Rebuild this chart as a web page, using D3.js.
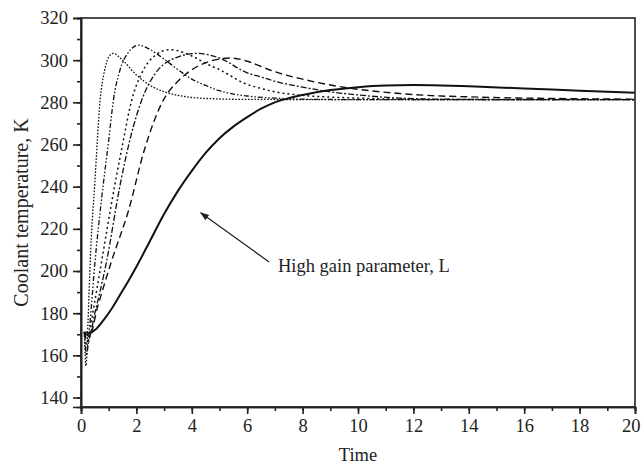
<!DOCTYPE html>
<html><head><meta charset="utf-8">
<script src="https://cdn.jsdelivr.net/npm/d3@7"></script>
<style>body{margin:0;background:#fff}svg{display:block}text{font-family:"Liberation Serif","Times New Roman",serif;fill:#222}</style>
</head><body><svg id="c" width="642" height="465"></svg>
<script>
const xTicks=[0,2,4,6,8,10,12,14,16,18,20];
const yTicks=[140,160,180,200,220,240,260,280,300,320];
const xTitle="Time", yTitle="Coolant temperature, K", note="High gain parameter, L";
// series: [time, temperature]
const serA=[[0.12,171],[0.18,155],[0.25,175],[0.35,210],[0.5,242],[0.69,281],[0.85,295],[1.0,301.5],[1.16,303.2],[1.5,300],[2,293],[2.5,288],[3,285],[3.5,283.3],[4,282.3],[5,281.6],[6,281.4],[10,281.3],[20,281.3]];
const serB=[[0.12,171],[0.2,160],[0.3,172],[0.51,205],[0.75,235],[1.0,262],[1.17,281],[1.4,295],[1.7,303.5],[2.07,307.1],[2.5,305],[3,300.5],[3.5,295.5],[4,291],[4.5,288],[5,285.5],[6,283],[7,282],[8,281.5],[10,281.3],[20,281.3]];
const serC=[[0.12,171],[0.22,164],[0.4,178],[0.75,205],[1.1,232],[1.5,260],[1.83,281],[2.2,294],[2.7,302.5],[3.21,305],[4,302],[4.5,298.5],[5,295.5],[6,288.5],[6.5,286.6],[7,285],[8,283.3],[9,282.5],[10,282],[11,281.6],[13,281.3],[20,281.3]];
const serD=[[0.12,171],[0.25,167],[0.5,180],[0.93,205],[1.4,240],[1.8,264],[2.19,281],[2.7,294],[3.3,300.5],[4.18,303.2],[5,301],[6,294],[6.5,292],[7,290],[8,287.2],[9,285],[10,283.5],[11.5,282],[13,281.5],[16,281.3],[20,281.3]];
const serE=[[0.12,171],[0.3,169],[0.6,183],[1.11,205],[1.7,228],[2.3,258],[2.97,281],[3.5,290],[4.2,297],[4.8,300],[5.4,301],[6,299.5],[6.5,297],[7,294.5],[8,291],[9,288.2],[10,286.2],[11.5,284.2],[13,283],[14,282.6],[16,282],[18,281.7],[20,281.5]];
const serS=[[0.12,171],[0.3,170.5],[0.5,172],[0.8,176.5],[1.1,182],[1.4,188.5],[1.7,195],[2,202],[2.5,214.5],[3,227],[3.5,238],[4,247.5],[4.5,256],[5,263],[5.5,268.5],[6,273],[6.5,277],[7,280],[7.5,282],[8,283.5],[9,285.8],[10,287.2],[11,288],[12,288.2],[13,288],[14,287.6],[16,286.6],[18,285.5],[20,284.5]];
const seriesList=[
 {d:serA,dash:"1.6,1.6",w:1.3},
 {d:serB,dash:"5,2,1.5,2,1.5,2",w:1.3},
 {d:serC,dash:"2,3",w:1.5},
 {d:serD,dash:"6,2,2,2",w:1.3},
 {d:serE,dash:"7,4",w:1.4},
 {d:serS,dash:null,w:2}
];
const W=642,H=465,m={l:81,r:7,t:18,b:58};
const svg=d3.select("#c");
const x=d3.scaleLinear().domain([0,20]).range([m.l,W-m.r]);
const y=d3.scaleLinear().domain([135.5,320]).range([H-m.b,m.t]);
const line=d3.line().x(d=>x(d[0])).y(d=>y(d[1])).curve(d3.curveMonotoneX);
seriesList.forEach(s=>{
 svg.append("path").attr("d",line(s.d)).attr("fill","none").attr("stroke","#111")
  .attr("stroke-width",s.w).attr("stroke-dasharray",s.dash);
});
// frame
svg.append("rect").attr("x",x(0)).attr("y",y(320)).attr("width",x(20)-x(0)).attr("height",y(135.5)-y(320))
 .attr("fill","none").attr("stroke","#222").attr("stroke-width",1.6);
// x axis
const xMinor=d3.range(0,21,1);
const gx=svg.append("g").attr("transform",`translate(0,${y(135.5)})`);
gx.call(d3.axisBottom(x).tickValues(xMinor).tickSize(4).tickFormat(""));
const gx2=svg.append("g").attr("transform",`translate(0,${y(135.5)})`);
gx2.call(d3.axisBottom(x).tickValues(xTicks).tickSize(7).tickPadding(5).tickFormat(d3.format("d")));
gx2.selectAll(".tick text").filter(d=>d===20).attr("text-anchor","end").attr("dx",5);
const yMinor=d3.range(140,321,10);
const gy=svg.append("g").attr("transform",`translate(${x(0)},0)`);
gy.call(d3.axisLeft(y).tickValues(yMinor).tickSize(4).tickFormat(""));
const gy2=svg.append("g").attr("transform",`translate(${x(0)},0)`);
gy2.call(d3.axisLeft(y).tickValues(yTicks).tickSize(8).tickPadding(5).tickFormat(d3.format("d")));
svg.selectAll(".domain").attr("stroke","#222").attr("stroke-width",1.6);
svg.selectAll(".tick line").attr("stroke","#222").attr("stroke-width",1.6);
svg.selectAll(".tick text").attr("font-size",18.5).style("font-family","'Liberation Serif','Times New Roman',serif").attr("fill","#333");
// titles
svg.append("text").attr("x",(x(0)+x(20))/2).attr("y",461).attr("text-anchor","middle").attr("font-size",18.5).text(xTitle);
svg.append("text").attr("transform",`translate(28,${(y(135.5)+y(320))/2}) rotate(-90)`).attr("text-anchor","middle").attr("font-size",20).text(yTitle);
// annotation
svg.append("defs").append("marker").attr("id","ah").attr("viewBox","0 0 10 10").attr("refX",9).attr("refY",5)
 .attr("markerWidth",7).attr("markerHeight",7).attr("orient","auto")
 .append("path").attr("d","M0,1.5L10,5L0,8.5Z").attr("fill","#222");
svg.append("line").attr("x1",x(6.79)).attr("y1",y(204.3)).attr("x2",x(4.32)).attr("y2",y(227.6))
 .attr("stroke","#222").attr("stroke-width",1.3).attr("marker-end","url(#ah)");
svg.append("text").attr("x",x(7.11)).attr("y",y(199.6)).attr("font-size",18.5).text(note);
</script></body></html>
